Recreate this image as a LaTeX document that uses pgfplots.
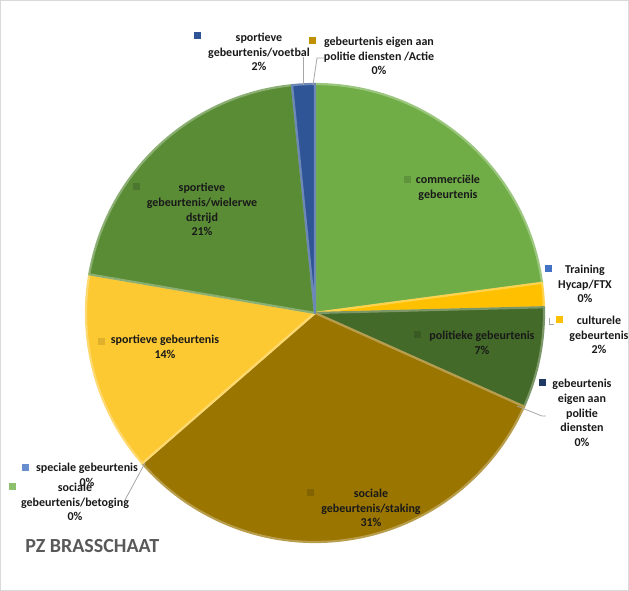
\documentclass[border=0pt]{standalone}
\usepackage{pgfplots}
\pgfplotsset{compat=1.18}
\usepackage{pgfplotstable}
\usepackage{fontspec}
\setmainfont{Carlito}

\definecolor{cComm}{HTML}{70AD47}
\definecolor{cTrain}{HTML}{4472C4}
\definecolor{cCult}{HTML}{FFC000}
\definecolor{cPol}{HTML}{436A28}
\definecolor{cEigen}{HTML}{203864}
\definecolor{cStak}{HTML}{9A7500}
\definecolor{cSpec}{HTML}{698ED0}
\definecolor{cBet}{HTML}{8CC06C}
\definecolor{cSport}{HTML}{FDC932}
\definecolor{cWiel}{HTML}{5A8C36}
\definecolor{cVoet}{HTML}{2F5597}
\definecolor{cActie}{HTML}{BF9000}
\definecolor{cTitle}{HTML}{595959}
\definecolor{cLead}{HTML}{A6A6A6}

% slices, clockwise from 12 o'clock (percent of total)
\pgfplotstableread[col sep=comma]{
name,value
commercieel,22.9
training,0
cultureel,1.7
politiek,7.1
eigen,0
staking,31.9
speciaal,0
betoging,0
sportief,14.1
wieler,20.7
voetbal,1.6
actie,0
}\piedata

\newcommand\lbl{\fontsize{6}{7.35}\selectfont\bfseries}
\newcommand\slice[2]{%
  \edef\tmp{\noexpand\filldraw[fill=#2,draw=#2!70!white,line width=1.1pt,line join=round]
    (axis cs:315,278) -- ++(\csname sa#1\endcsname:114.5pt)
    arc[start angle=\csname sa#1\endcsname,end angle=\csname sb#1\endcsname,radius=114.5pt] -- cycle;}%
  \tmp}
\newcommand\key[3]{\fill[#1] (axis cs:#2,#3) ++(-1.75pt,-1.75pt) rectangle ++(3.5pt,3.5pt);}
\tikzset{lab/.style={font=\lbl,align=center,text=black!90,inner sep=0pt}}

\begin{document}
\begin{tikzpicture}
\def\cum{90}
\pgfplotstableforeachcolumnelement{value}\of\piedata\as\v{%
  \pgfmathsetmacro\nb{\cum-3.6*\v}%
  \expandafter\xdef\csname sa\pgfplotstablerow\endcsname{\cum}%
  \expandafter\xdef\csname sb\pgfplotstablerow\endcsname{\nb}%
  \xdef\cum{\nb}%
}
\begin{axis}[x=0.5pt,y=0.5pt,xmin=0,xmax=629,ymin=0,ymax=591,
  hide axis,clip=false]
\draw[black!15,line width=0.5pt] (axis cs:0.5,0.5) rectangle (axis cs:628.5,590.5);
% zero slices first
\slice{1}{cTrain}\slice{4}{cEigen}\slice{6}{cSpec}\slice{7}{cBet}\slice{11}{cActie}
% visible slices
\slice{0}{cComm}\slice{2}{cCult}\slice{3}{cPol}\slice{5}{cStak}
\slice{8}{cSport}\slice{9}{cWiel}\slice{10}{cVoet}

% leader lines
\draw[cLead,line width=0.4pt] (axis cs:303,534) -- (axis cs:303,506);
\draw[cLead,line width=0.4pt] (axis cs:324,533) -- (axis cs:317,533) -- (axis cs:313,506);
\draw[cLead,line width=0.4pt] (axis cs:549,273) -- (axis cs:549,267) -- (axis cs:554,267);
\draw[cLead,line width=0.4pt] (axis cs:517,185) -- (axis cs:542,175) -- (axis cs:546,175);
\draw[cLead,line width=0.4pt] (axis cs:145,128) -- (axis cs:125,91);

% keys
\key{cVoet}{198}{556}
\key{cActie}{313}{551}
\key{cComm!85!black}{408}{411}
\key{cTrain}{549}{322}
\key{cCult}{560}{271}
\key{cPol!85!black}{418}{256}
\key{cEigen}{543}{208}
\key{cStak!85!black}{311}{98}
\key{cSpec}{26}{123}
\key{cBet}{13}{104}
\key{cSport!88!black}{102}{249}
\key{cWiel!85!black}{137}{404}

% labels
\node[lab] at (axis cs:259,539) {sportieve\\gebeurtenis/voetbal\\2\%};
\node[lab] at (axis cs:379,535) {gebeurtenis eigen aan\\politie diensten /Actie\\0\%};
\node[lab] at (axis cs:448,403.5) {commerciële\\gebeurtenis};
\node[lab] at (axis cs:585,307) {Training\\Hycap/FTX\\0\%};
\node[lab] at (axis cs:599,256) {culturele\\gebeurtenis\\2\%};
\node[lab] at (axis cs:482,248) {politieke gebeurtenis\\7\%};
\node[lab] at (axis cs:582,178) {gebeurtenis\\eigen aan\\politie\\diensten\\0\%};
\node[lab] at (axis cs:371,83) {sociale\\gebeurtenis/staking\\31\%};
\node[lab] at (axis cs:87,116.5) {speciale gebeurtenis\\0\%};
\node[lab] at (axis cs:75,89) {sociale\\gebeurtenis/betoging\\0\%};
\node[lab] at (axis cs:165,244) {sportieve gebeurtenis\\14\%};
\node[lab] at (axis cs:202,381.5) {sportieve\\gebeurtenis/wielerwe\\dstrijd\\21\%};

\node[anchor=west,inner sep=0pt,font=\fontsize{10}{12}\selectfont\bfseries,text=cTitle] at (axis cs:25,45) {PZ BRASSCHAAT};
\end{axis}
\end{tikzpicture}
\end{document}
